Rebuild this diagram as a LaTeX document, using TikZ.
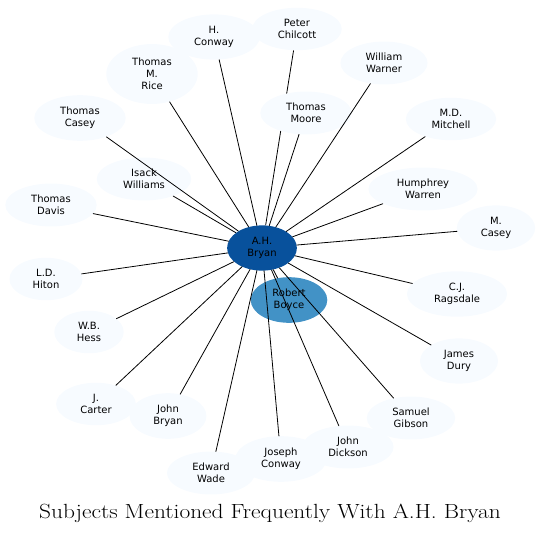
\documentclass[tikz,border=0pt]{standalone}
\usepackage{fontspec}
\newfontfamily\gvfont{DejaVu Sans}
\usetikzlibrary{shapes.geometric,backgrounds}
\definecolor{blueA}{HTML}{08519C}
\definecolor{blueB}{HTML}{4292C6}
\definecolor{blueC}{HTML}{F7FBFF}
\begin{document}
\begin{tikzpicture}[x=1pt,y=-1pt,line join=round,line cap=round]
	\tikzset{person/.style={ellipse,fill=blueC,inner xsep=12.5pt,inner ysep=5.3pt,align=center,font=\gvfont\fontsize{10}{12}\selectfont},
		hub/.style={person,fill=blueA,inner xsep=10pt},
		near/.style={person,fill=blueB,inner xsep=10.5pt},
		link/.style={line width=0.8pt}}
	\useasboundingbox (0,0) rectangle (541,535);
	\node[person] (chilcott) at (297,29) {Peter\\Chilcott};
	\node[person] (hconway) at (214,37) {H.\\Conway};
	\node[person] (rice) at (152,74) {Thomas\\M.\\Rice};
	\node[person] (warner) at (384,63) {William\\Warner};
	\node[person] (moore) at (306,113) {Thomas\\Moore};
	\node[person] (mitchell) at (451,119) {M.D.\\Mitchell};
	\node[person] (tcasey) at (80,118) {Thomas\\Casey};
	\node[person] (williams) at (144,179) {Isack\\Williams};
	\node[person] (warren) at (423,189) {Humphrey\\Warren};
	\node[person] (davis) at (51,205) {Thomas\\Davis};
	\node[person] (mcasey) at (496,228) {M.\\Casey};
	\node[person] (hiton) at (46,279) {L.D.\\Hiton};
	\node[person] (ragsdale) at (457,294) {C.J.\\Ragsdale};
	\node[person] (hess) at (89,332) {W.B.\\Hess};
	\node[person] (dury) at (459,361) {James\\Dury};
	\node[person] (carter) at (96,404) {J.\\Carter};
	\node[person] (jbryan) at (168,416) {John\\Bryan};
	\node[person] (gibson) at (411,418) {Samuel\\Gibson};
	\node[person] (wade) at (211,473) {Edward\\Wade};
	\node[person] (jconway) at (281,459) {Joseph\\Conway};
	\node[person] (dickson) at (348,447) {John\\Dickson};
	\node[near] (boyce) at (289,300) {Robert\\Boyce};
	\node[hub] (bryan) at (262,248) {A.H.\\Bryan};
	\begin{scope}[on background layer]
		\draw[link] (bryan) -- (chilcott);
	\end{scope}
	\foreach \p in {hconway,rice,warner,moore,mitchell,tcasey,williams,warren,davis,mcasey,hiton,ragsdale,hess,dury,carter,jbryan,gibson,wade,jconway,dickson,boyce}
		\draw[link] (bryan) -- (\p);
	\node[transform shape,xscale=1.14,font=\fontsize{20.5}{24}\selectfont] (title) at (270,513) {Subjects Mentioned Frequently With A.H. Bryan};
\end{tikzpicture}
\end{document}
